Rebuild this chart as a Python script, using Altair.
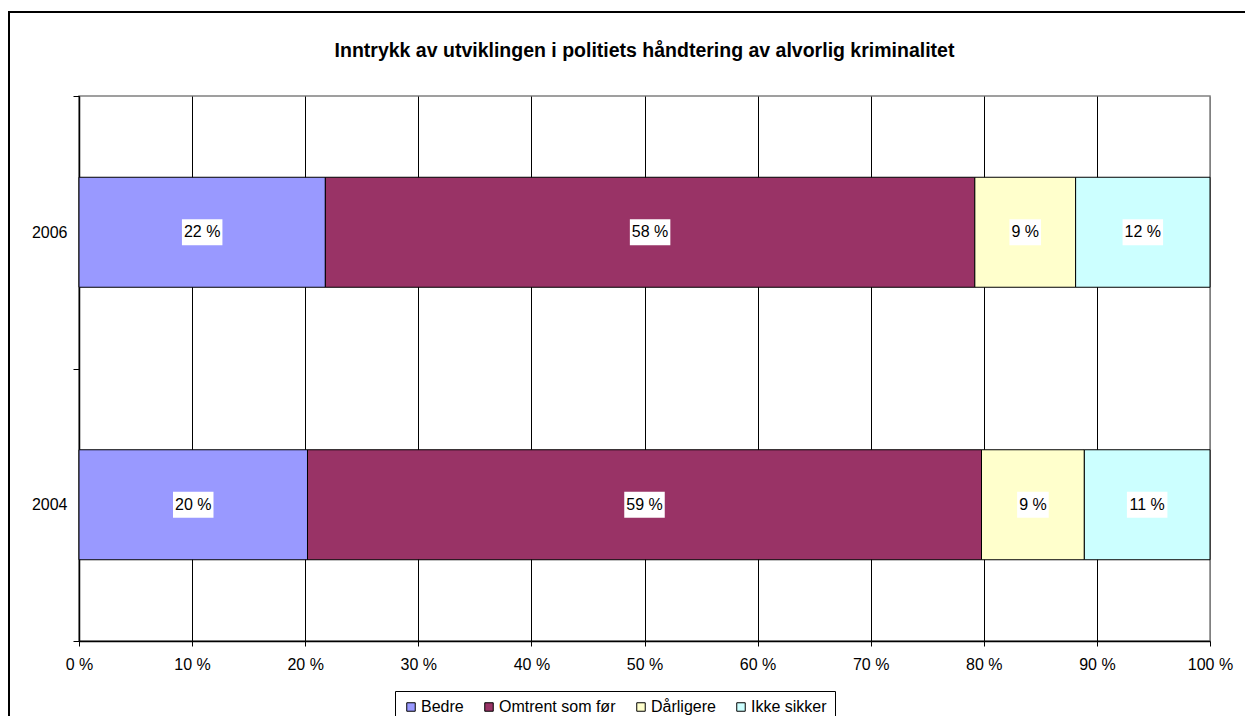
import altair as alt
import pandas as pd

# ---- data ----
years = ["2006", "2004"]
categories = ["Bedre", "Omtrent som før", "Dårligere", "Ikke sikker"]
values_2006 = [22, 58, 9, 12]
values_2004 = [20, 59, 9, 11]
colors = ["#9999FF", "#993366", "#FFFFCC", "#CCFFFF"]
x_ticks = [0, 0.1, 0.2, 0.3, 0.4, 0.5, 0.6, 0.7, 0.8, 0.9, 1.0]
title_text = "Inntrykk av utviklingen i politiets håndtering av alvorlig kriminalitet"

rows = []
for year, vals in zip(years, [values_2006, values_2004]):
    for i, (cat, v) in enumerate(zip(categories, vals)):
        rows.append({"year": year, "category": cat, "value": v, "order": i})
df = pd.DataFrame(rows)

FONT = "Liberation Sans"
W, H = 1131, 545

base = (
    alt.Chart(df)
    .transform_stack(
        stack="value",
        groupby=["year"],
        as_=["x0", "x1"],
        offset="normalize",
        sort=[alt.SortField("order", order="ascending")],
    )
    .transform_calculate(mid="(datum.x0 + datum.x1) / 2")
    .transform_calculate(label="datum.value + ' %'")
    .transform_calculate(bw=f"(length(toString(datum.value)) * 8.9 + 22.7) / {W}")
    .transform_calculate(lo="datum.mid - datum.bw / 2")
    .transform_calculate(hi="datum.mid + datum.bw / 2")
)

y_enc = alt.Y(
    "year:N",
    sort=years,
    title=None,
    scale=alt.Scale(paddingInner=0, paddingOuter=0),
    axis=alt.Axis(
        tickBand="extent",
        tickSize=6,
        labelPadding=6,
        grid=False,
        domainWidth=1.5,
    ),
)

bars = base.mark_bar(size=110, stroke="black", strokeWidth=1).encode(
    x=alt.X(
        "x0:Q",
        title=None,
        scale=alt.Scale(domain=[0, 1], nice=False),
        axis=alt.Axis(
            values=x_ticks,
            labelExpr="round(datum.value * 100) + ' %'",
            tickSize=5,
            labelPadding=10,
            labelFlush=False,
            grid=True,
            gridColor={"condition": {"test": "datum.value >= 1", "value": "#808080"}, "value": "black"},
            domainWidth=1.5,
        ),
    ),
    x2="x1:Q",
    y=y_enc,
    color=alt.Color(
        "category:N",
        scale=alt.Scale(domain=categories, range=colors),
        legend=alt.Legend(
            title=None,
            orient="none",
            legendX=316,
            legendY=595,
            direction="horizontal",
            symbolType="square",
            symbolSize=72,
            symbolStrokeColor="black",
            symbolStrokeWidth=1,
            symbolOpacity=1,
            labelFont=FONT,
            labelFontSize=16,
            labelColor="black",
            labelOffset=2,
            columnPadding=17,
            padding=8,
            strokeColor="black",
            fillColor="white",
        ),
    ),
)

boxes = base.mark_bar(size=26, color="white", opacity=1).encode(
    x=alt.X("lo:Q", title=None),
    x2="hi:Q",
    y=alt.Y("year:N", sort=years, title=None),
)

labels = base.mark_text(font=FONT, fontSize=16, color="black", baseline="middle", align="center").encode(
    x=alt.X("mid:Q", title=None),
    y=alt.Y("year:N", sort=years, title=None),
    text="label:N",
)

title_df = pd.DataFrame({"t": [title_text]})
title = (
    alt.Chart(title_df)
    .mark_text(font=FONT, fontSize=19.5, fontWeight="bold", color="black", align="center", baseline="alphabetic")
    .encode(x=alt.value(W / 2), y=alt.value(-39), text="t:N")
)

border = (
    alt.Chart(pd.DataFrame({"a": [0]}))
    .mark_rect(filled=False, stroke="black", strokeWidth=2)
    .encode(x=alt.value(-70), x2=alt.value(1230), y=alt.value(-84), y2=alt.value(700))
)

chart = (
    alt.layer(bars, boxes, labels, title, border)
    .properties(
        width=W,
        height=H,
        padding={"left": 71, "top": 88, "right": 35, "bottom": 75},
        autosize=alt.AutoSizeParams(type="none"),
        background="white",
    )
    .configure_view(stroke="#808080", strokeWidth=1.5)
    .configure_axis(
        labelFont=FONT,
        labelFontSize=16,
        labelColor="black",
        domainColor="black",
        tickColor="black",
    )
)

chart.save("out.html", embed_options={"renderer": "svg", "actions": False})
